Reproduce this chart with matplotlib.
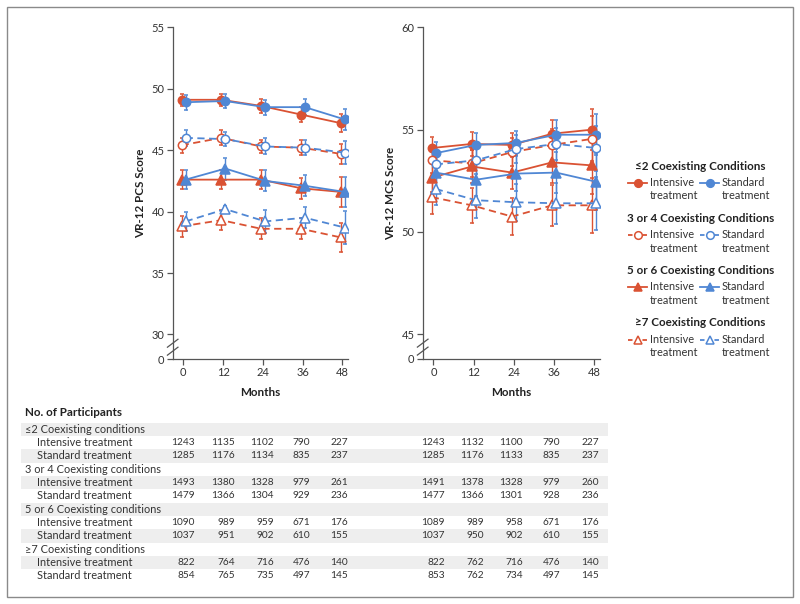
import numpy as np
import matplotlib
matplotlib.use("Agg")
import matplotlib.pyplot as plt
from matplotlib.lines import Line2D
from matplotlib.patches import Rectangle

plt.rcParams['font.family'] = ['Lato', 'DejaVu Sans']

months = [0, 12, 24, 36, 48]
groups = ["≤2 Coexisting Conditions", "3 or 4 Coexisting Conditions",
          "5 or 6 Coexisting Conditions", "≥7 Coexisting Conditions"]

# PCS scores (left panel)
pcs_int = [[49.1, 49.1, 48.6, 47.9, 47.2],
           [45.4, 46.0, 45.3, 45.2, 44.7],
           [42.6, 42.6, 42.6, 41.9, 41.6],
           [38.8, 39.3, 38.6, 38.6, 37.9]]
pcs_std = [[48.9, 49.0, 48.5, 48.5, 47.5],
           [46.0, 45.9, 45.3, 45.2, 44.8],
           [42.6, 43.5, 42.5, 42.1, 41.6],
           [39.2, 40.2, 39.2, 39.5, 38.7]]
pcs_int_err = [[0.5, 0.5, 0.55, 0.6, 0.75],
               [0.6, 0.6, 0.55, 0.6, 0.8],
               [0.8, 0.8, 0.8, 0.85, 1.25],
               [0.85, 0.8, 0.85, 0.85, 1.15]]
pcs_std_err = [[0.6, 0.6, 0.6, 0.65, 0.85],
               [0.65, 0.6, 0.65, 0.6, 0.95],
               [0.8, 0.9, 0.85, 0.85, 1.25],
               [0.75, 0.25, 0.95, 0.85, 1.35]]

# MCS scores (right panel)
mcs_int = [[54.1, 54.3, 54.25, 54.8, 55.0],
           [53.5, 53.35, 53.9, 54.25, 54.55],
           [52.65, 53.2, 52.9, 53.4, 53.25],
           [51.7, 51.3, 50.75, 51.3, 51.3]]
mcs_std = [[53.85, 54.25, 54.35, 54.75, 54.75],
           [53.3, 53.5, 54.05, 54.3, 54.1],
           [52.9, 52.55, 52.85, 52.9, 52.45],
           [52.1, 51.55, 51.45, 51.4, 51.4]]
mcs_int_err = [[0.55, 0.6, 0.6, 0.65, 1.0],
               [0.6, 0.65, 0.7, 0.8, 1.1],
               [0.7, 0.8, 0.8, 1.0, 1.4],
               [0.8, 0.85, 0.9, 1.0, 1.35]]
mcs_std_err = [[0.55, 0.6, 0.6, 0.7, 1.0],
               [0.6, 0.65, 0.7, 0.8, 1.1],
               [0.75, 0.8, 0.85, 1.0, 1.4],
               [0.8, 0.85, 0.9, 1.0, 1.3]]

# participant counts
row_labels = ["≤2 Coexisting conditions", "Intensive treatment", "Standard treatment",
              "3 or 4 Coexisting conditions", "Intensive treatment", "Standard treatment",
              "5 or 6 Coexisting conditions", "Intensive treatment", "Standard treatment",
              "≥7 Coexisting conditions", "Intensive treatment", "Standard treatment"]
n_pcs = [None, [1243, 1135, 1102, 790, 227], [1285, 1176, 1134, 835, 237],
         None, [1493, 1380, 1328, 979, 261], [1479, 1366, 1304, 929, 236],
         None, [1090, 989, 959, 671, 176], [1037, 951, 902, 610, 155],
         None, [822, 764, 716, 476, 140], [854, 765, 735, 497, 145]]
n_mcs = [None, [1243, 1132, 1100, 790, 227], [1285, 1176, 1133, 835, 237],
         None, [1491, 1378, 1328, 979, 260], [1477, 1366, 1301, 928, 236],
         None, [1089, 989, 958, 671, 176], [1037, 950, 902, 610, 155],
         None, [822, 762, 716, 476, 140], [853, 762, 734, 497, 145]]

red = "#DA5233"
blue = "#5087D4"
markers = ["o", "o", "^", "^"]
filled = [True, False, True, False]
styles = ["-", "--", "-", "--"]
fs_text = 7.9    # table and legend text
fs_num = 7.3     # table numbers
fs_tick = 8.0
fs_bold = 8.4
txt_col = "#333333"

W, H = 800, 604
fig = plt.figure(figsize=(8.0, 6.04), dpi=100)


def fx(x):
    return x / W


def fy(y):
    return 1 - y / H


def draw_panel(ax, ints, stds, int_err, std_err, ylo, ticks, ylabel):
    for g in range(4):
        for vals, err, col, dx in [(ints[g], int_err[g], red, -0.5), (stds[g], std_err[g], blue, 0.7)]:
            x = np.array(months) + dx
            ax.errorbar(x, vals, yerr=err, color=col, linestyle=styles[g],
                        dashes=(4, 2.5) if styles[g] == "--" else (None, None),
                        lw=1.3, marker=markers[g], ms=6 if markers[g] == "o" else 6.5,
                        mfc=col if filled[g] else "white", mec=col, mew=1.1,
                        elinewidth=1.0, capsize=1.6, capthick=1.0)
    ax.set_xlim(-3.2, 49.8)
    ax.set_ylim(ylo, ticks[-1])
    ax.set_xticks(months)
    ax.set_yticks([ylo] + ticks)
    ax.set_yticklabels(["0"] + [str(t) for t in ticks])
    for s in ["top", "right"]:
        ax.spines[s].set_visible(False)
    for s in ["left", "bottom"]:
        ax.spines[s].set_color("#555555")
        ax.spines[s].set_linewidth(0.9)
    ax.tick_params(length=4, width=0.9, color="#555555", labelsize=fs_tick, labelcolor=txt_col, pad=2)
    ax.set_xlabel("Months", fontsize=fs_bold, fontweight="bold", labelpad=6, color="#222222")
    ax.set_ylabel(ylabel, fontsize=fs_bold, fontweight="bold", labelpad=4, color="#222222")
    # axis break marks
    ymid = ylo + (ticks[0] - ylo) * 0.48
    trans = ax.get_yaxis_transform()
    span = (ticks[-1] - ylo)
    for off in [-0.012, 0.012]:
        ax.plot([-0.03, 0.03], [ymid + (off - 0.012) * span, ymid + (off + 0.012) * span],
                transform=trans, color="#555555", lw=0.9, clip_on=False)


ax1 = fig.add_axes([fx(172.7), fy(359), fx(348.3) - fx(172.7), fy(27.3) - fy(359)])
draw_panel(ax1, pcs_int, pcs_std, pcs_int_err, pcs_std_err, 28.0, [30, 35, 40, 45, 50, 55],
           "VR-12 PCS Score")
ax2 = fig.add_axes([fx(422.7), fy(359), fx(600) - fx(422.7), fy(27.3) - fy(359)])
draw_panel(ax2, mcs_int, mcs_std, mcs_int_err, mcs_std_err, 43.79, [45, 50, 55, 60],
           "VR-12 MCS Score")

# legend
title_y = [166, 218.5, 270.5, 323]
for g in range(4):
    ty = title_y[g]
    fig.text(fx(700.5), fy(ty), groups[g], ha="center", va="center", fontsize=fs_bold,
             fontweight="bold", color="#222222")
    for col, x0, tx, lab in [(red, 628, 650, "Intensive"), (blue, 700, 721.5, "Standard")]:
        ly = ty + 16.5
        ln = Line2D([fx(x0), fx(x0 + 19)], [fy(ly), fy(ly)], transform=fig.transFigure,
                    color=col, lw=1.3, linestyle=styles[g],
                    dashes=(2.5, 5.5) if styles[g] == "--" else (None, None))
        fig.add_artist(ln)
        mk = Line2D([fx(x0 + 9.5)], [fy(ly)], transform=fig.transFigure, marker=markers[g],
                    ms=5.5, mfc=col if filled[g] else "white", mec=col, mew=1.1, color=col)
        fig.add_artist(mk)
        fig.text(fx(tx), fy(ly), lab, ha="left", va="center", fontsize=fs_text, color=txt_col)
        fig.text(fx(tx), fy(ly + 13.3), "treatment", ha="left", va="center", fontsize=fs_text,
                 color=txt_col)

# participant table
fig.text(fx(25), fy(413), "No. of Participants", ha="left", va="center", fontsize=fs_bold,
         fontweight="bold", color="#222222")
col_left = [195, 235, 274, 310, 348]
col_right = [445, 484, 523, 560, 599]
row_h = 13.33
for i, lab in enumerate(row_labels):
    yc = 429.3 + i * row_h
    if i % 2 == 0:
        fig.add_artist(Rectangle((fx(21), fy(yc + row_h / 2)), fx(608) - fx(21), row_h / H,
                                 transform=fig.transFigure, facecolor="#EEEEEE",
                                 edgecolor="none", zorder=0))
    xl = 25 if n_pcs[i] is None else 37
    fig.text(fx(xl), fy(yc), lab, ha="left", va="center", fontsize=fs_text, color=txt_col)
    if n_pcs[i] is not None:
        for xc, v in zip(col_left, n_pcs[i]):
            fig.text(fx(xc), fy(yc), str(v), ha="right", va="center", fontsize=fs_num, color=txt_col)
        for xc, v in zip(col_right, n_mcs[i]):
            fig.text(fx(xc), fy(yc), str(v), ha="right", va="center", fontsize=fs_num, color=txt_col)

# frame
fig.add_artist(Rectangle((fx(7), fy(596.5)), fx(792.5) - fx(7), (596.5 - 7.3) / H,
                         transform=fig.transFigure, facecolor="none", edgecolor="#8A8A8A",
                         lw=1.0))

fig.savefig("out.png", dpi=100)
